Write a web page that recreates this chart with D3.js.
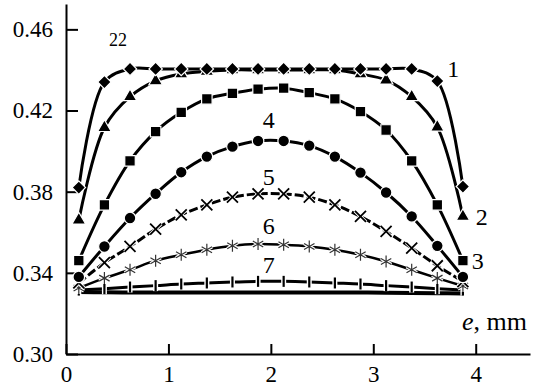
<!DOCTYPE html>
<html>
<head>
<meta charset="utf-8">
<script src="https://cdn.jsdelivr.net/npm/d3@7"></script>
<style>
  body { margin: 0; background: #fff; }
  .axis path, .axis line { stroke: #000; stroke-width: 2; }
  .axis text { font-size: 23px; fill: #000; }
  .lbl { font-size: 24px; fill: #000; }
</style>
</head>
<body>
<svg id="chart" width="534" height="390"></svg>
<script>
// data
var eValues = [0.125, 0.375, 0.625, 0.875, 1.125, 1.375, 1.625, 1.875,
               2.125, 2.375, 2.625, 2.875, 3.125, 3.375, 3.625, 3.875];
var curve1 = [0.382, 0.434, 0.4405, 0.4405, 0.4405, 0.4405, 0.4405, 0.4405,
              0.4405, 0.4405, 0.4405, 0.4405, 0.4405, 0.4405, 0.4345, 0.3825];
var curve2 = [0.366, 0.4116, 0.4268, 0.4346, 0.438, 0.4393, 0.440, 0.440,
              0.440, 0.440, 0.440, 0.438, 0.435, 0.4268, 0.4118, 0.3678];
var curve3 = [0.346, 0.3735, 0.3952, 0.4096, 0.4191, 0.4257, 0.4285, 0.4305,
              0.431, 0.4288, 0.4257, 0.4195, 0.4104, 0.3952, 0.3735, 0.346];
var curve4 = [0.338, 0.353, 0.367, 0.379, 0.3896, 0.3973, 0.4022, 0.405,
              0.405, 0.4027, 0.3973, 0.3894, 0.3796, 0.3678, 0.3533, 0.338];
var curve5 = [0.335, 0.345, 0.353, 0.3615, 0.3686, 0.3735, 0.3773, 0.3789,
              0.3789, 0.3773, 0.3735, 0.3678, 0.3604, 0.3522, 0.3435, 0.3357];
var curve6 = [0.3325, 0.3374, 0.3415, 0.346, 0.3489, 0.3514, 0.3533, 0.3542,
              0.3538, 0.353, 0.3514, 0.3489, 0.3456, 0.3415, 0.3374, 0.3335];
var curve7 = [0.3315, 0.3322, 0.333, 0.3337, 0.3345, 0.335, 0.3355, 0.3358,
              0.3358, 0.3355, 0.335, 0.3345, 0.3337, 0.333, 0.3322, 0.3315];
var curve8 = [0.3305, 0.3304, 0.3303, 0.3303, 0.3303, 0.3303, 0.3303, 0.3303,
              0.3303, 0.3303, 0.3303, 0.3303, 0.3302, 0.3301, 0.3300, 0.3298];
var curveLabels = ["1", "2", "3", "4", "5", "6", "7"];
var yTicks = [0.30, 0.34, 0.38, 0.42, 0.46];
var xTicks = [0, 1, 2, 3, 4];

var serif = "'Liberation Serif', 'DejaVu Serif', serif";

var svg = d3.select("#chart")
    .attr("font-family", serif);

var x = d3.scaleLinear().domain([0, 4.53]).range([66, 530]);
var y = d3.scaleLinear().domain([0.30, 0.4725]).range([354, 4]);

// axes
svg.append("g")
    .attr("class", "axis")
    .attr("transform", "translate(0,354)")
    .call(d3.axisBottom(x).tickValues(xTicks).tickFormat(d3.format("d"))
        .tickSizeInner(-10).tickSizeOuter(0).tickPadding(12))
    .attr("font-family", serif);

svg.append("g")
    .attr("class", "axis")
    .attr("transform", "translate(66,0)")
    .call(d3.axisLeft(y).tickValues(yTicks).tickFormat(d3.format(".2f"))
        .tickSizeInner(-12).tickSizeOuter(0).tickPadding(13))
    .attr("font-family", serif);

// series setup
var series = [
  {vals: curve8, marker: "none", width: 4, dash: null},
  {vals: curve7, marker: "bar", width: 3, dash: null},
  {vals: curve6, marker: "star", width: 2.5, dash: null},
  {vals: curve5, marker: "cross", width: 3, dash: "9,3"},
  {vals: curve4, marker: "circle", width: 3, dash: null},
  {vals: curve3, marker: "square", width: 3, dash: null},
  {vals: curve2, marker: "triangle", width: 3, dash: null},
  {vals: curve1, marker: "diamond", width: 3, dash: null}
];

var line = d3.line()
    .x(function(d) { return x(d[0]); })
    .y(function(d) { return y(d[1]); })
    .curve(d3.curveCatmullRom.alpha(0.5));

var symPaths = {
  circle: d3.symbol().type(d3.symbolCircle).size(105)(),
  square: d3.symbol().type(d3.symbolSquare).size(110)(),
  triangle: d3.symbol().type(d3.symbolTriangle).size(80)(),
  diamond: d3.symbol().type(d3.symbolSquare).size(90)(),
  cross: "M-5.5,-5.5L5.5,5.5M-5.5,5.5L5.5,-5.5",
  star: "M0,-6L0,6M-5.2,-3L5.2,3M-5.2,3L5.2,-3",
  bar: "M0,-5.5L0,5.5"
};

series.forEach(function(s) {
  var pts = eValues.map(function(e, i) { return [e, s.vals[i]]; });
  svg.append("path")
      .datum(pts)
      .attr("fill", "none")
      .attr("stroke", "#000")
      .attr("stroke-width", s.width)
      .attr("stroke-dasharray", s.dash)
      .attr("d", line);

  if (s.marker == "none") return;

  var g = svg.append("g").selectAll("g")
      .data(pts)
    .enter().append("g")
      .attr("transform", function(d) {
        var t = "translate(" + x(d[0]) + "," + y(d[1]) + ")";
        if (s.marker == "diamond") t += " rotate(45)";
        return t;
      });

  if (s.marker == "cross" || s.marker == "star" || s.marker == "bar") {
    g.append("path")
        .attr("d", symPaths[s.marker])
        .attr("fill", "none")
        .attr("stroke", "#fff")
        .attr("stroke-width", s.marker == "bar" ? 5 : 3.5);
    g.append("path")
        .attr("d", symPaths[s.marker])
        .attr("fill", "none")
        .attr("stroke", s.marker == "star" ? "#333" : "#000")
        .attr("stroke-width", s.marker == "bar" ? 2.2 : (s.marker == "star" ? 1.2 : 1.8));
  } else {
    g.append("path")
        .attr("d", symPaths[s.marker])
        .attr("fill", "#000")
        .attr("stroke", "#fff")
        .attr("stroke-width", 1.2);
  }
});

// curve numbers and other text
var labelPos = [
  {t: curveLabels[0], x: 3.78, y: 0.4408},
  {t: curveLabels[1], x: 4.06, y: 0.3675},
  {t: curveLabels[2], x: 4.02, y: 0.346},
  {t: curveLabels[3], x: 1.98, y: 0.4155},
  {t: curveLabels[4], x: 1.98, y: 0.3875},
  {t: curveLabels[5], x: 1.98, y: 0.3632},
  {t: curveLabels[6], x: 1.98, y: 0.3440}
];
svg.selectAll(".lbl")
    .data(labelPos)
  .enter().append("text")
    .attr("class", "lbl")
    .attr("x", function(d) { return x(d.x); })
    .attr("y", function(d) { return y(d.y); })
    .attr("dy", "0.35em")
    .attr("text-anchor", "middle")
    .text(function(d) { return d.t; });

svg.append("text")
    .attr("x", 109)
    .attr("y", 46)
    .attr("font-size", 18)
    .text("22");

var unit = svg.append("text")
    .attr("x", 462)
    .attr("y", 330)
    .attr("font-size", 26);
unit.append("tspan").attr("font-style", "italic").text("e");
unit.append("tspan").text(", mm");
</script>
</body>
</html>
